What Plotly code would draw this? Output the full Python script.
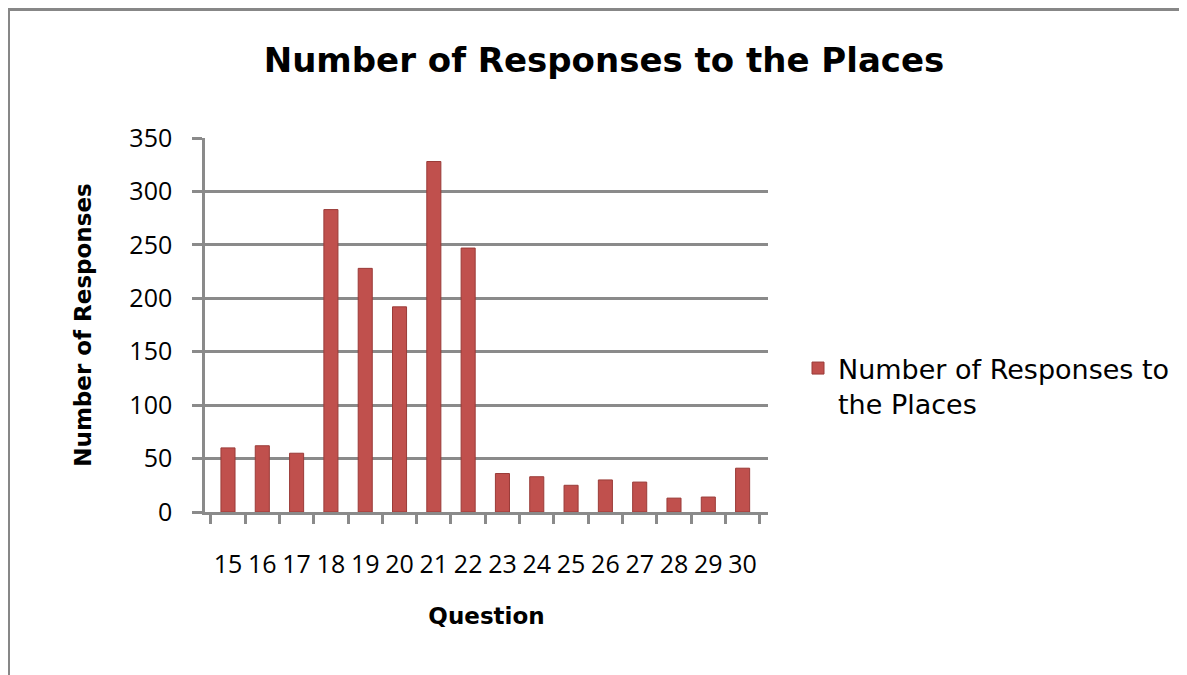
import plotly.graph_objects as go

# ---- data ----
questions = ["15", "16", "17", "18", "19", "20", "21", "22",
             "23", "24", "25", "26", "27", "28", "29", "30"]
responses = [60, 62, 55, 283, 228, 192, 328, 247,
             36, 33, 25, 30, 28, 13, 14, 41]
y_ticks = [0, 50, 100, 150, 200, 250, 300, 350]
series_name = "Number of Responses to<br>the Places"
chart_title = "Number of Responses to the Places"
x_title = "Question"
y_title = "Number of Responses"

# the page body has an 8px margin, so figure coords = page coords - 8
OFF = 8
W, H = 1187 - OFF, 675 - OFF
L, R, T, B = 205 - OFF, 768 - OFF, 138 - OFF, 512 - OFF   # plot area (figure px)


def px(x):  # page x -> paper
    return (x - OFF - L) / (R - L)


def py(y):  # page y -> paper
    return (B - (y - OFF)) / (B - T)


GRID = "#8a8a8a"
RED = "#C0504D"

fig = go.Figure()
fig.add_trace(go.Bar(
    x=questions, y=responses, name=series_name,
    marker=dict(color=RED, line=dict(color="#9A3B38", width=1)),
    showlegend=True,
))

fig.update_layout(
    width=W, height=H,
    margin=dict(l=L, r=W - R, t=T, b=H - B, pad=0),
    paper_bgcolor="white", plot_bgcolor="white",
    bargap=0.59,
    showlegend=True,
    title=dict(text=chart_title, x=(604 - OFF) / W, xref="container", xanchor="center",
               y=1 - (60 - OFF) / H, yref="container", yanchor="middle",
               font=dict(family="DejaVu Sans", size=34, weight="bold", color="#000000")),
    legend=dict(x=px(798), y=py(344), xanchor="left", yanchor="top",
                valign="top", bgcolor="rgba(0,0,0,0)",
                font=dict(family="DejaVu Sans", size=27, color="#000000")),
    xaxis=dict(
        type="category", range=[-0.67, 15.74],
        showline=True, linecolor=GRID, linewidth=2.5,
        ticks="outside", tickson="boundaries", ticklen=9, tickwidth=2.5, tickcolor=GRID,
        showgrid=False, tickangle=0,
        tickfont=dict(family="Open Sans", size=25, color="#000000"),
        ticklabelstandoff=28,
        title=dict(text=x_title, standoff=30,
                   font=dict(family="DejaVu Sans", size=23, weight="bold", color="#000000")),
    ),
    yaxis=dict(
        range=[0, 350], tickvals=y_ticks,
        showline=True, linecolor=GRID, linewidth=2.5,
        ticks="outside", ticklen=10, tickwidth=2.5, tickcolor=GRID,
        showgrid=True, gridcolor=GRID, gridwidth=2.5,
        zeroline=False,
        tickfont=dict(family="Open Sans", size=25, color="#000000"),
        ticklabelstandoff=15,
        title=dict(text=y_title, standoff=32,
                   font=dict(family="DejaVu Sans", size=23, weight="bold", color="#000000")),
    ),
)

# outer chart border (partially outside the window, as in the reference)
fig.add_shape(type="rect", xref="paper", yref="paper",
              x0=px(8.5), x1=px(1300), y0=py(9.5), y1=py(800),
              line=dict(color="#878787", width=3), fillcolor="rgba(0,0,0,0)", layer="below")

fig.write_html("out.html")
